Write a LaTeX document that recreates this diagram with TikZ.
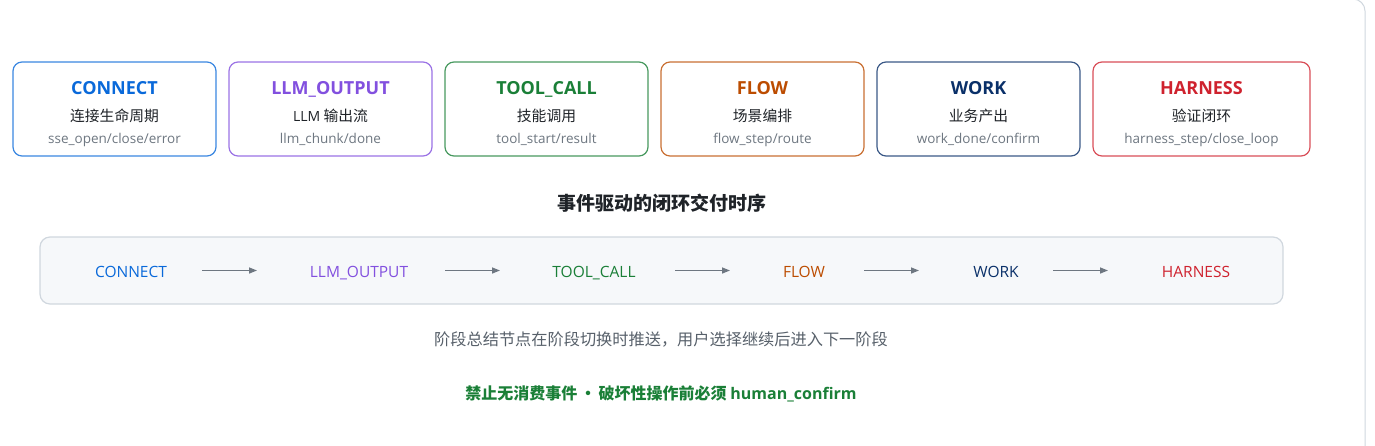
\documentclass[tikz,border=0pt]{standalone}
\usepackage{fontspec}
\setmainfont{Open Sans}
\newfontfamily\cjk{Noto Sans CJK SC}
\usetikzlibrary{arrows.meta}
\definecolor{cblue}{HTML}{0969DA}
\definecolor{cpurple}{HTML}{8250DF}
\definecolor{cgreen}{HTML}{1A7F37}
\definecolor{corange}{HTML}{BC4C00}
\definecolor{cnavy}{HTML}{0A3069}
\definecolor{cred}{HTML}{CF222E}
\definecolor{subgray}{HTML}{6E7781}
\definecolor{capgray}{HTML}{57606A}
\definecolor{darktext}{HTML}{1F2328}
\definecolor{flowbg}{HTML}{F6F8FA}
\definecolor{flowborder}{HTML}{D0D7DE}
\definecolor{arrowgray}{HTML}{6E7781}
\tikzset{
  card/.style={draw, rounded corners=9pt, line width=1.2pt, fill=white, minimum height=94pt, inner sep=0pt},
  ttl/.style={anchor=base, font=\bfseries\fontsize{18}{20}\selectfont, inner sep=0pt},
  zh/.style={anchor=base, font=\fontsize{14.8}{16}\selectfont\cjk, text=darktext, inner sep=0pt},
  sub/.style={anchor=base, font=\fontsize{13.5}{16}\selectfont, text=subgray, inner sep=0pt},
  flowtxt/.style={anchor=base, font=\fontsize{15.5}{17}\selectfont, inner sep=0pt},
  arr/.style={draw=arrowgray, line width=1.4pt, -{Triangle[length=8pt,width=6pt]}},
}
\begin{document}
\begin{tikzpicture}[x=1pt,y=-1pt]
\useasboundingbox (0,0) rectangle (1375,445);
% outer container edge
\draw[flowborder, line width=1pt, rounded corners=12pt] (1300,-1) -- (1365,-1) -- (1365,450);

% cards
\node[card, draw=cblue!80, minimum width=203pt] (k1) at (114.5,109) {};
\node[card, draw=cpurple!80, minimum width=203pt] (k2) at (330.5,109) {};
\node[card, draw=cgreen!80, minimum width=203pt] (k3) at (546.5,109) {};
\node[card, draw=corange!80, minimum width=203pt] (k4) at (762.5,109) {};
\node[card, draw=cnavy!80, minimum width=203pt] (k5) at (978.5,109) {};
\node[card, draw=cred!80, minimum width=217pt] (k6) at (1201.5,109) {};

\node[ttl, text=cblue] (k1t) at (114.5,94.5) {CONNECT};
\node[zh] (k1z) at (114.5,121) {连接生命周期};
\node[sub] (k1s) at (114.5,143) {sse\_open/close/error};

\node[ttl, text=cpurple] (k2t) at (330.5,94.5) {LLM\_OUTPUT};
\node[zh] (k2z) at (330.5,121) {{\fontspec{Open Sans}\fontsize{14}{16}\selectfont LLM} 输出流};
\node[sub] (k2s) at (330.5,143) {llm\_chunk/done};

\node[ttl, text=cgreen] (k3t) at (546.5,94.5) {TOOL\_CALL};
\node[zh] (k3z) at (546.5,121) {技能调用};
\node[sub] (k3s) at (546.5,143) {tool\_start/result};

\node[ttl, text=corange] (k4t) at (762.5,94.5) {FLOW};
\node[zh] (k4z) at (762.5,121) {场景编排};
\node[sub] (k4s) at (762.5,143) {flow\_step/route};

\node[ttl, text=cnavy] (k5t) at (978.5,94.5) {WORK};
\node[zh] (k5z) at (978.5,121) {业务产出};
\node[sub] (k5s) at (978.5,143) {work\_done/confirm};

\node[ttl, text=cred] (k6t) at (1201.5,94.5) {HARNESS};
\node[zh] (k6z) at (1201.5,121) {验证闭环};
\node[sub] (k6s) at (1201.5,143) {harness\_step/close\_loop};

% heading
\node[anchor=base, inner sep=0pt, text=darktext, font=\fontsize{19}{21}\selectfont\cjk\bfseries] (head) at (662,210) {事件驱动的闭环交付时序};

% flow box
\node[draw=flowborder, fill=flowbg, line width=1.2pt, rounded corners=10pt, minimum width=1243pt, minimum height=67pt, inner sep=0pt] (fbox) at (661.5,270.5) {};

\node[flowtxt, text=cblue] (f1) at (131,277.5) {CONNECT};
\node[flowtxt, text=cpurple] (f2) at (359,277.5) {LLM\_OUTPUT};
\node[flowtxt, text=cgreen] (f3) at (594,277.5) {TOOL\_CALL};
\node[flowtxt, text=corange] (f4) at (804,277.5) {FLOW};
\node[flowtxt, text=cnavy] (f5) at (996,277.5) {WORK};
\node[flowtxt, text=cred] (f6) at (1196,277.5) {HARNESS};

\coordinate (a1s) at (202,270.5); \coordinate (a1e) at (257,270.5);
\coordinate (a2s) at (445,270.5); \coordinate (a2e) at (500,270.5);
\coordinate (a3s) at (675,270.5); \coordinate (a3e) at (730,270.5);
\coordinate (a4s) at (864,270.5); \coordinate (a4e) at (919,270.5);
\coordinate (a5s) at (1053,270.5); \coordinate (a5e) at (1108,270.5);
\draw[arr] (a1s) -- (a1e);
\draw[arr] (a2s) -- (a2e);
\draw[arr] (a3s) -- (a3e);
\draw[arr] (a4s) -- (a4e);
\draw[arr] (a5s) -- (a5e);

% captions
\node[anchor=base, inner sep=0pt, text=capgray, font=\fontsize{16.2}{18}\selectfont\cjk] (cap) at (661,345) {阶段总结节点在阶段切换时推送，用户选择继续后进入下一阶段};
\node[anchor=base, inner sep=0pt, text=cgreen, font=\fontsize{16}{18}\selectfont\cjk\bfseries] (rule) at (661,399) {禁止无消费事件\,•\,破坏性操作前必须 {\fontspec{Open Sans}\bfseries\fontsize{16}{18}\selectfont human\_confirm}};
\end{tikzpicture}
\end{document}
